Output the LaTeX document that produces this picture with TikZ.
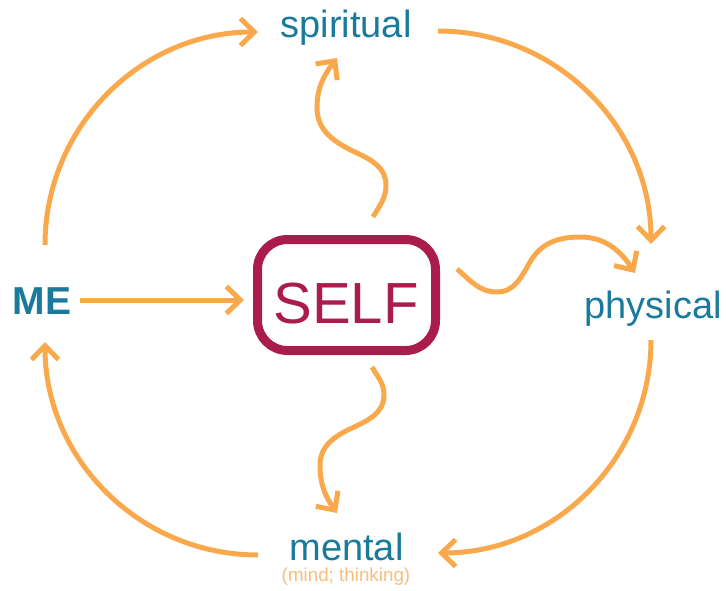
\documentclass[tikz,border=0pt]{standalone}
\usepackage{fontspec}
\setmainfont{Liberation Sans}
\usetikzlibrary{arrows.meta}
\definecolor{teal1}{HTML}{1A7A9C}
\definecolor{orng}{HTML}{F9A94B}
\definecolor{orngl}{HTML}{F9BC7E}
\definecolor{crim}{HTML}{A91C4C}
\tikzset{
  arr/.style={draw=orng, line width=5pt, -{Straight Barb[length=14pt,width=27pt]}},
  lbl/.style={text=teal1, font=\fontsize{38}{40}\selectfont, anchor=base, inner sep=0pt},
}
\begin{document}
\begin{tikzpicture}[x=1pt,y=1pt]
\useasboundingbox (0,0) rectangle (726,-590);
% labels
\node[lbl] (spi) at (346,-37) {spiritual};
\node[lbl] (phy) at (653,-318) {physical};
\node[lbl] (men) at (346.5,-560) {mental};
\node[text=orngl, font=\fontsize{18.8}{20}\selectfont, anchor=base, inner sep=0pt] (mind) at (346,-581) {(mind; thinking)};
\node[text=teal1, font=\bfseries\fontsize{39}{40}\selectfont, anchor=base, inner sep=0pt] (me) at (42,-314) {ME};
% SELF box
\draw[crim, line width=9pt, rounded corners=30pt] (257.5,-239.5) rectangle (435.5,-350.5);
\node[text=crim, font=\fontsize{58}{60}\selectfont, anchor=base, inner sep=0pt] (self) at (346,-323) {SELF};
% arc endpoints
\coordinate (tl) at (45,-245);
\coordinate (tr) at (438,-31);
\coordinate (br) at (651,-340);
\coordinate (bl) at (258,-555);
\draw[arr] (tl) arc[start angle=180, end angle=90, radius=213];
\draw[arr] (tr) arc[start angle=90, end angle=0, radius=213];
\draw[arr] (br) arc[start angle=0, end angle=-90, radius=213];
\draw[arr] (bl) arc[start angle=-90, end angle=-180, radius=213];
% ME -> SELF
\coordinate (meE) at (80,-300);
\coordinate (selfW) at (244,-300);
\draw[arr] (meE) -- (selfW);
% wavy arrows
\coordinate (w1s) at (373,-217);
\coordinate (w1e) at (337,-58);
\draw[arr] (w1s) to[out=60,in=-90] (386,-185) to[out=90,in=-25] (357,-153)
  to[out=155,in=-90] (317,-108) to[out=90,in=233] (w1e);
\coordinate (w2s) at (457,-269);
\coordinate (w2e) at (635,-273);
\draw[arr] (w2s) to[out=-40,in=180] (497,-292) to[out=0,in=-120] (530,-262)
  to[out=60,in=180] (580,-237) to[out=0,in=123] (w2e);
\coordinate (w3s) at (372,-367);
\coordinate (w3e) at (337,-513);
\draw[arr] (w3s) to[out=-60,in=90] (384,-395) to[out=-90,in=25] (352,-428)
  to[out=205,in=90] (320,-465) to[out=-90,in=125] (w3e);
\end{tikzpicture}
\end{document}
